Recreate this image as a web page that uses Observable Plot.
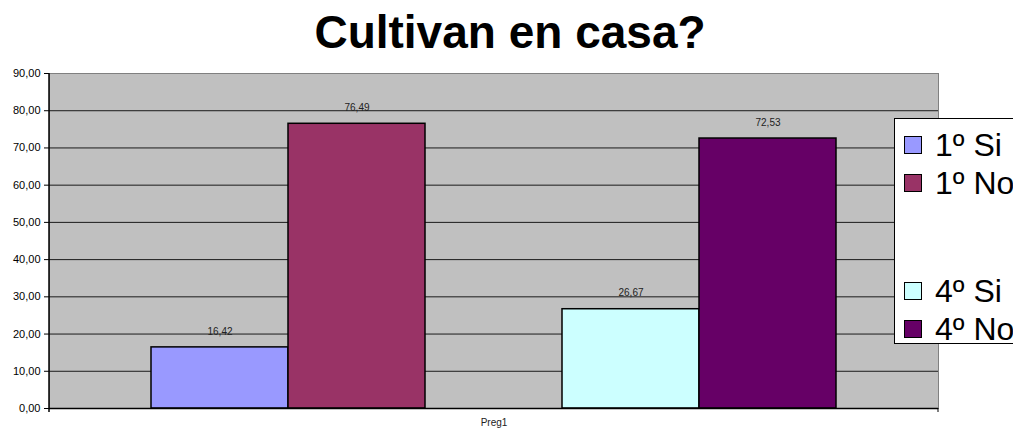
<!DOCTYPE html>
<html>
<head>
<meta charset="utf-8">
<script src="https://cdn.jsdelivr.net/npm/d3@7"></script>
<script src="https://cdn.jsdelivr.net/npm/@observablehq/plot@0.6"></script>
<style>
  html, body { margin: 0; padding: 0; background: #fff; overflow: hidden; }
  #wrap { position: relative; width: 1013px; height: 432px; overflow: hidden; font-family: "Liberation Sans", Arial, sans-serif; }
  #title { position: absolute; left: 0; width: 1020px; top: 9px; text-align: center; font-weight: bold; font-size: 46px; line-height: 46px; color: #000; }
  #legend { position: absolute; left: 894px; top: 118px; width: 140px; height: 226px; background: #fff; border: 1px solid #000; box-sizing: border-box; }
  .item { position: absolute; left: 9px; height: 32px; display: flex; align-items: center; font-size: 32px; color: #000; white-space: nowrap; }
  .sw { width: 18px; height: 18px; border: 1px solid #000; margin-right: 13px; box-sizing: border-box; }
  #chart { position: absolute; left: 0; top: 0; }
</style>
</head>
<body>
<div id="wrap">
  <div id="chart"></div>
  <div id="title">Cultivan en casa?</div>
  <div id="legend"></div>
</div>
<script>
// Data
const category = "Preg1";
const series = ["1º Si", "1º No", "4º Si", "4º No"];
const values = [16.42, 76.49, 26.67, 72.53];
const yTicks = [0, 10, 20, 30, 40, 50, 60, 70, 80, 90];

// Styles
const colors = ["#9999FF", "#993366", "#CCFFFF", "#660066"];
const slots = ["1º Si", "1º No", "", "4º Si", "4º No"]; // blank slot as in the original legend

const data = series.map((s, i) => ({ series: s, value: values[i] }));
const fmt = v => v.toFixed(2).replace(".", ",");

const chart = Plot.plot({
  width: 1013,
  height: 432,
  marginLeft: 49,
  marginRight: 75,
  marginTop: 73,
  marginBottom: 24,
  style: { fontFamily: "Liberation Sans, Arial, sans-serif", fontSize: "11px", background: "transparent", color: "#000" },
  x: { type: "band", domain: slots, range: [151, 836], padding: 0, axis: null },
  y: { domain: [0, 90], axis: null },
  color: { domain: series, range: colors },
  marks: [
    Plot.frame({ fill: "#C0C0C0", stroke: "#808080" }),
    Plot.ruleY(yTicks.filter(t => t > 0 && t < 90), { stroke: "#1a1a1a", strokeWidth: 1 }),
    Plot.axisY(yTicks, { tickFormat: fmt, tickSize: 5, tickPadding: 4, fontSize: 11, stroke: "#000", label: null }),
    Plot.barY(data, { x: "series", y: "value", fill: "series", stroke: "#000", strokeWidth: 1.5 }),
    Plot.text(data, { x: "series", y: "value", text: d => fmt(d.value), dy: -16, fontSize: 10, fill: "#222" }),
    Plot.ruleY([0], { stroke: "#000", strokeWidth: 1.5 }),
    Plot.text([category], { frameAnchor: "bottom", text: d => d, dy: 17, fontSize: 10, fill: "#222" })
  ]
});
document.getElementById("chart").appendChild(chart);

// Left axis line and end ticks drawn onto the SVG at frame edges
const svg = d3.select(chart);
const ys = chart.scale("y");
const y0 = ys.apply(0), y90 = ys.apply(90);
svg.append("line").attr("x1", 49).attr("x2", 49).attr("y1", y90).attr("y2", y0 + 4).attr("stroke", "#000").attr("stroke-width", 1.5);
svg.append("line").attr("x1", 938).attr("x2", 938).attr("y1", y0).attr("y2", y0 + 4).attr("stroke", "#000").attr("stroke-width", 1);

// Legend
const legend = document.getElementById("legend");
const rowsTop = [10, 48, 156, 194];
series.forEach((s, i) => {
  const it = document.createElement("div");
  it.className = "item";
  it.style.top = rowsTop[i] + "px";
  it.innerHTML = `<span class="sw" style="background:${colors[i]}"></span><span>${s}</span>`;
  legend.appendChild(it);
});
</script>
</body>
</html>
